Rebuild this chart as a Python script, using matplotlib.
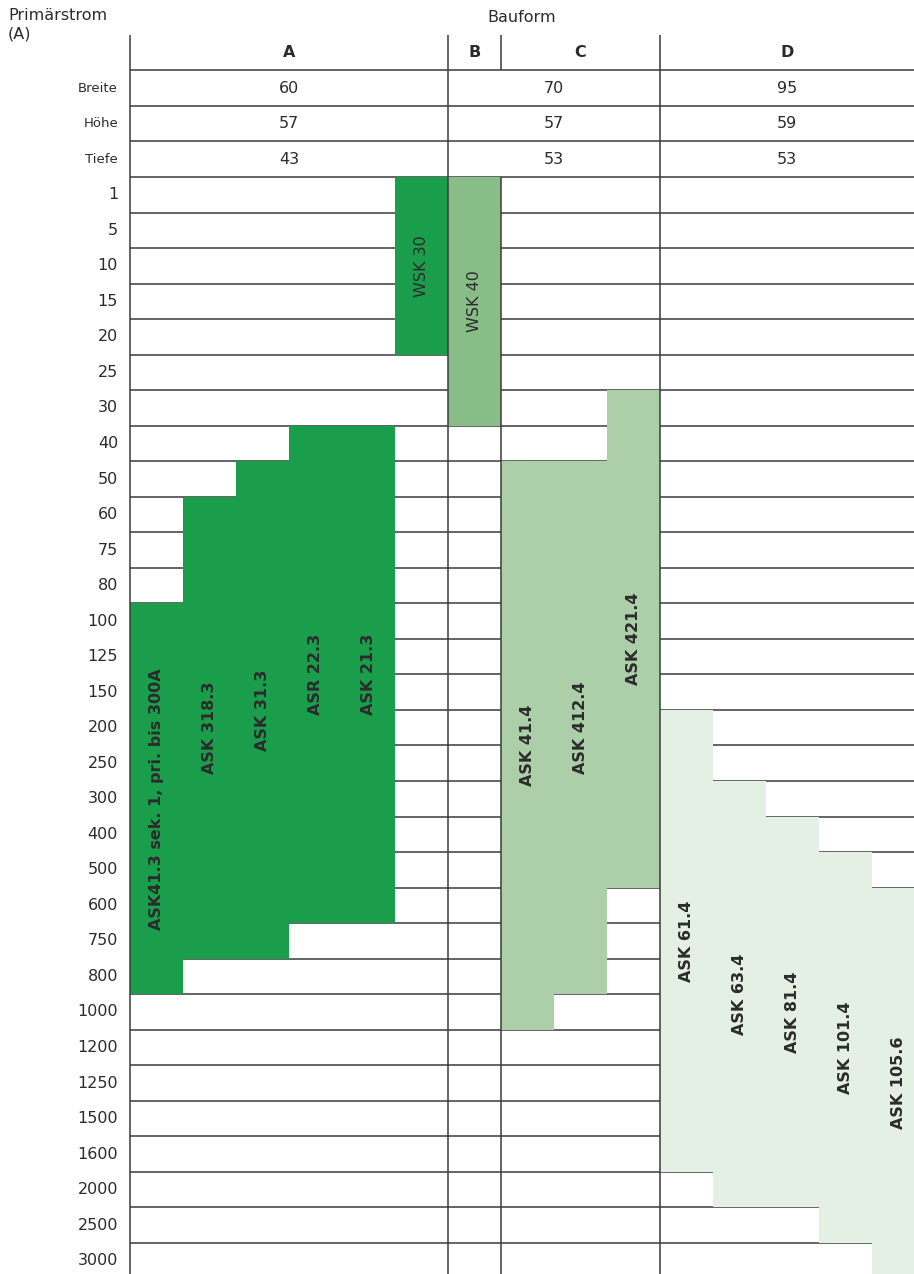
# Übersicht Stromwandler: Primärstrom je Bauform
import matplotlib

matplotlib.use("Agg")

import matplotlib.pyplot as plt
from matplotlib.patches import Rectangle

# ------------------------------------------------------------
# Daten
# ------------------------------------------------------------

STROM = [1, 5, 10, 15, 20, 25, 30, 40, 50, 60, 75, 80, 100, 125, 150,
         200, 250, 300, 400, 500, 600, 750, 800, 1000, 1200, 1250, 1500,
         1600, 2000, 2500, 3000]

BAUFORMEN = ["A", "B", "C", "D"]

# Abmessungen (mm), gemeinsame Spalten: A | B+C | D
ABMESSUNG_GRUPPEN = [["A"], ["B", "C"], ["D"]]
BREITE = [60, 70, 95]
HOEHE = [57, 57, 59]
TIEFE = [43, 53, 53]

WANDLER = ["ASK41.3 sek. 1, pri. bis 300A", "ASK 318.3", "ASK 31.3",
           "ASR 22.3", "ASK 21.3", "WSK 30",
           "WSK 40",
           "ASK 41.4", "ASK 412.4", "ASK 421.4",
           "ASK 61.4", "ASK 63.4", "ASK 81.4", "ASK 101.4", "ASK 105.6"]
WANDLER_BAUFORM = ["A", "A", "A", "A", "A", "A",
                   "B",
                   "C", "C", "C",
                   "D", "D", "D", "D", "D"]
STROM_VON = [100, 60, 50, 40, 40, 1, 1, 50, 50, 30, 200, 300, 400, 500, 600]
STROM_BIS = [800, 750, 750, 600, 600, 20, 30, 1000, 800, 500,
             1600, 2000, 2000, 2500, 3000]

FARBEN = {"A": "#1b9e4b", "B": "#88bd88", "C": "#accfa9", "D": "#e5f0e4"}
TEXT = "#2b2b2b"
LINIE = "#3a3a3a"

# ------------------------------------------------------------
# Geometrie (1 Einheit = eine Wandlerspalte bzw. eine Zeile)
# ------------------------------------------------------------

X_MIN, X_MAX = -2.453, 14.79
Y_TOP, Y_BOTTOM = -4.982, 30.875

spalten = {b: WANDLER_BAUFORM.count(b) for b in BAUFORMEN}
links = {}
pos = 0
for b in BAUFORMEN:
    links[b] = pos
    pos += spalten[b]
rechts = {b: links[b] + spalten[b] for b in BAUFORMEN}
rechts["D"] = X_MAX

fig = plt.figure(figsize=(9.14, 12.74), dpi=100)
ax = fig.add_axes([0, 0, 1, 1])
ax.set_xlim(X_MIN, X_MAX)
ax.set_ylim(Y_BOTTOM, Y_TOP)
ax.axis("off")

# Gitterlinien
n = len(STROM)
ax.hlines(range(-3, n), 0, X_MAX, color=LINIE, lw=1.1, zorder=1)
for b in ["A", "B", "D"]:
    ax.vlines(links[b], -4, n + 1, color=LINIE, lw=1.1, zorder=3)
ax.vlines(links["C"], -4, -3, color=LINIE, lw=1.1, zorder=3)
ax.vlines(links["C"], 0, n + 1, color=LINIE, lw=1.1, zorder=3)

# Balken
belegt = {b: 0 for b in BAUFORMEN}
for name, bauform, von, bis in zip(WANDLER, WANDLER_BAUFORM, STROM_VON, STROM_BIS):
    x = links[bauform] + belegt[bauform]
    belegt[bauform] += 1
    i0 = STROM.index(von)
    i1 = STROM.index(bis) + 1
    ax.add_patch(Rectangle((x, i0), 1, i1 - i0, facecolor=FARBEN[bauform],
                           edgecolor="none", zorder=2))
    ax.text(x + 0.5, (i0 + i1) / 2, name, rotation=90, ha="center", va="center",
            fontsize=11.5, color=TEXT, zorder=4,
            fontweight="normal" if name.startswith("WSK") else "bold")

# Kopfzeile
for b in BAUFORMEN:
    ax.text((links[b] + rechts[b]) / 2, -3.5, b, ha="center", va="center",
            fontsize=11.5, fontweight="bold", color=TEXT)

for zeile, (titel, werte) in enumerate(zip(["Breite", "Höhe", "Tiefe"],
                                          [BREITE, HOEHE, TIEFE])):
    y = -2.5 + zeile
    ax.text(-0.226, y, titel, ha="right", va="center", fontsize=9.5, color=TEXT)
    for gruppe, wert in zip(ABMESSUNG_GRUPPEN, werte):
        xm = (links[gruppe[0]] + rechts[gruppe[-1]]) / 2
        ax.text(xm, y, str(wert), ha="center", va="center", fontsize=11.5, color=TEXT)

for i, s in enumerate(STROM):
    ax.text(-0.226, i + 0.5, str(s), ha="right", va="center", fontsize=11.5, color=TEXT)

ax.text(X_MAX / 2, -4.5, "Bauform", ha="center", va="center", fontsize=11.5, color=TEXT)
fig.text(8 / 914, 1 - 8 / 1274, "Primärstrom\n(A)", ha="left", va="top",
         fontsize=11.5, color=TEXT, linespacing=1.3)

fig.savefig("out.png", dpi=100)
plt.close(fig)
